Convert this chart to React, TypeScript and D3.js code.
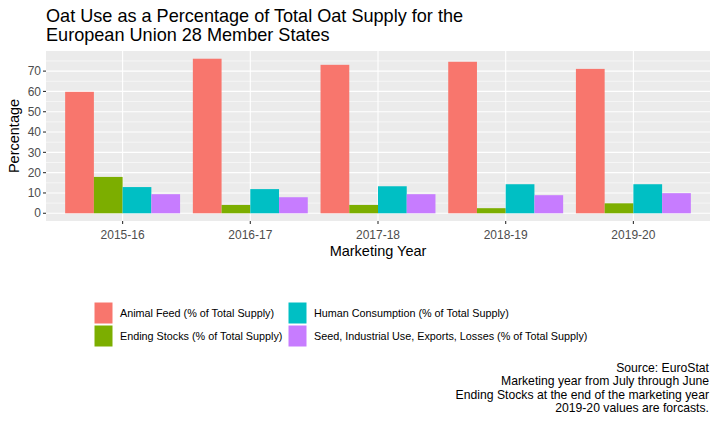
import { useEffect, useRef } from 'react';
import * as d3 from 'd3';

const years = ['2015-16', '2016-17', '2017-18', '2018-19', '2019-20'];
const seriesNames = [
  'Animal Feed (% of Total Supply)',
  'Ending Stocks (% of Total Supply)',
  'Human Consumption (% of Total Supply)',
  'Seed, Industrial Use, Exports, Losses (% of Total Supply)',
];
const animalFeed = [59.8, 76.1, 73.1, 74.6, 71.1];
const endingStocks = [17.9, 4.1, 4.1, 2.5, 4.9];
const humanConsumption = [12.9, 11.9, 13.3, 14.3, 14.3];
const seedIndustrial = [9.4, 7.9, 9.4, 8.9, 9.9];
const yTicks = [0, 10, 20, 30, 40, 50, 60, 70];
const captionLines = [
  'Source: EuroStat',
  'Marketing year from July through June',
  'Ending Stocks at the end of the marketing year',
  '2019-20 values are forcasts.',
];

const palette = ['#F8766D', '#7CAE00', '#00BFC4', '#C77CFF'];
const FONT = '"Liberation Sans", Arial, sans-serif';

export default function App() {
  const svgRef = useRef<SVGSVGElement>(null);

  useEffect(() => {
    if (!svgRef.current) return;
    const W = 718;
    const H = 421;
    const panel = { left: 46, right: 710, top: 51, bottom: 221 };

    const svg = d3.select(svgRef.current);
    svg.selectAll('*').remove();
    svg.attr('width', W).attr('height', H);

    svg.append('rect').attr('width', W).attr('height', H).attr('fill', '#fff');

    const series = [animalFeed, endingStocks, humanConsumption, seedIndustrial];
    const maxVal = d3.max(series.flat()) ?? 0;
    const pad = maxVal * 0.05;

    const y = d3.scaleLinear().domain([-pad, maxVal + pad]).range([panel.bottom, panel.top]);
    // bars take 0.9 of each category slot, 0.6 slot of room on the outer edges
    const x = d3.scaleBand<string>().domain(years).range([panel.left, panel.right]).paddingInner(0.1).paddingOuter(0.15);
    const xInner = d3.scaleBand<number>().domain([0, 1, 2, 3]).range([0, x.bandwidth()]);
    const cx = (d: string) => x(d)! + x.bandwidth() / 2;

    // panel background + grid
    svg.append('rect')
      .attr('x', panel.left).attr('y', panel.top)
      .attr('width', panel.right - panel.left).attr('height', panel.bottom - panel.top)
      .attr('fill', '#EBEBEB');

    const minorTicks = d3.range(5, maxVal + pad, 10);
    svg.append('g').selectAll('line')
      .data(minorTicks)
      .join('line')
      .attr('x1', panel.left).attr('x2', panel.right)
      .attr('y1', (d) => y(d)).attr('y2', (d) => y(d))
      .attr('stroke', '#fff').attr('stroke-width', 0.55);

    svg.append('g').selectAll('line')
      .data(yTicks)
      .join('line')
      .attr('x1', panel.left).attr('x2', panel.right)
      .attr('y1', (d) => y(d)).attr('y2', (d) => y(d))
      .attr('stroke', '#fff').attr('stroke-width', 1.1);

    svg.append('g').selectAll('line')
      .data(years)
      .join('line')
      .attr('x1', cx).attr('x2', cx)
      .attr('y1', panel.top).attr('y2', panel.bottom)
      .attr('stroke', '#fff').attr('stroke-width', 1.1);

    // bars
    series.forEach((vals, si) => {
      svg.append('g').selectAll('rect')
        .data(vals)
        .join('rect')
        .attr('x', (_, i) => x(years[i])! + xInner(si)!)
        .attr('width', xInner.bandwidth())
        .attr('y', (d) => y(d))
        .attr('height', (d) => y(0) - y(d))
        .attr('fill', palette[si]);
    });

    // y axis
    const yAxis = svg.append('g');
    yAxis.selectAll('line')
      .data(yTicks)
      .join('line')
      .attr('x1', panel.left - 3).attr('x2', panel.left)
      .attr('y1', (d) => y(d)).attr('y2', (d) => y(d))
      .attr('stroke', '#333').attr('stroke-width', 1.1);
    yAxis.selectAll('text')
      .data(yTicks)
      .join('text')
      .attr('x', panel.left - 5).attr('y', (d) => y(d))
      .attr('dy', '0.35em')
      .attr('text-anchor', 'end')
      .attr('font-size', 12).attr('font-family', FONT).attr('fill', '#4D4D4D')
      .text((d) => d);

    // x axis
    const xAxis = svg.append('g');
    xAxis.selectAll('line')
      .data(years)
      .join('line')
      .attr('x1', cx).attr('x2', cx)
      .attr('y1', panel.bottom).attr('y2', panel.bottom + 3)
      .attr('stroke', '#333').attr('stroke-width', 1.1);
    xAxis.selectAll('text')
      .data(years)
      .join('text')
      .attr('x', cx).attr('y', 239)
      .attr('text-anchor', 'middle')
      .attr('font-size', 12).attr('font-family', FONT).attr('fill', '#4D4D4D')
      .text((d) => d);

    svg.append('text')
      .attr('x', (panel.left + panel.right) / 2).attr('y', 255.5)
      .attr('text-anchor', 'middle')
      .attr('font-size', 14.5).attr('font-family', FONT).attr('fill', '#000')
      .text('Marketing Year');

    svg.append('text')
      .attr('transform', `translate(19,${(panel.top + panel.bottom) / 2}) rotate(-90)`)
      .attr('text-anchor', 'middle')
      .attr('font-size', 14.5).attr('font-family', FONT).attr('fill', '#000')
      .text('Percentage');

    // title
    const title = svg.append('text')
      .attr('font-size', 18.1).attr('font-family', FONT).attr('fill', '#000');
    title.append('tspan').attr('x', panel.left).attr('y', 21.5).text('Oat Use as a Percentage of Total Oat Supply for the');
    title.append('tspan').attr('x', panel.left).attr('y', 40.5).text('European Union 28 Member States');

    // legend, two columns filled by column
    const legendCols = [94, 288];
    const legendRows = [302, 325];
    seriesNames.forEach((name, i) => {
      const col = i < 2 ? 0 : 1;
      const row = i % 2;
      const g = svg.append('g').attr('transform', `translate(${legendCols[col]},${legendRows[row]})`);
      g.append('rect').attr('width', 19).attr('height', 22).attr('fill', palette[i]).attr('stroke', '#fff').attr('stroke-width', 1);
      g.append('text')
        .attr('x', 26).attr('y', 11.5).attr('dy', '0.35em')
        .attr('font-size', 10.8).attr('font-family', FONT).attr('fill', '#000')
        .text(name);
    });

    // caption
    const cap = svg.append('text')
      .attr('text-anchor', 'end')
      .attr('font-size', 12.2).attr('font-family', FONT).attr('fill', '#000');
    captionLines.forEach((line, i) => {
      cap.append('tspan').attr('x', 709).attr('y', 372 + i * 13.3).text(line);
    });
  }, []);

  return (
    <div style={{ position: 'absolute', left: 0, top: 0 }}>
      <svg ref={svgRef} style={{ display: 'block' }} />
    </div>
  );
}
